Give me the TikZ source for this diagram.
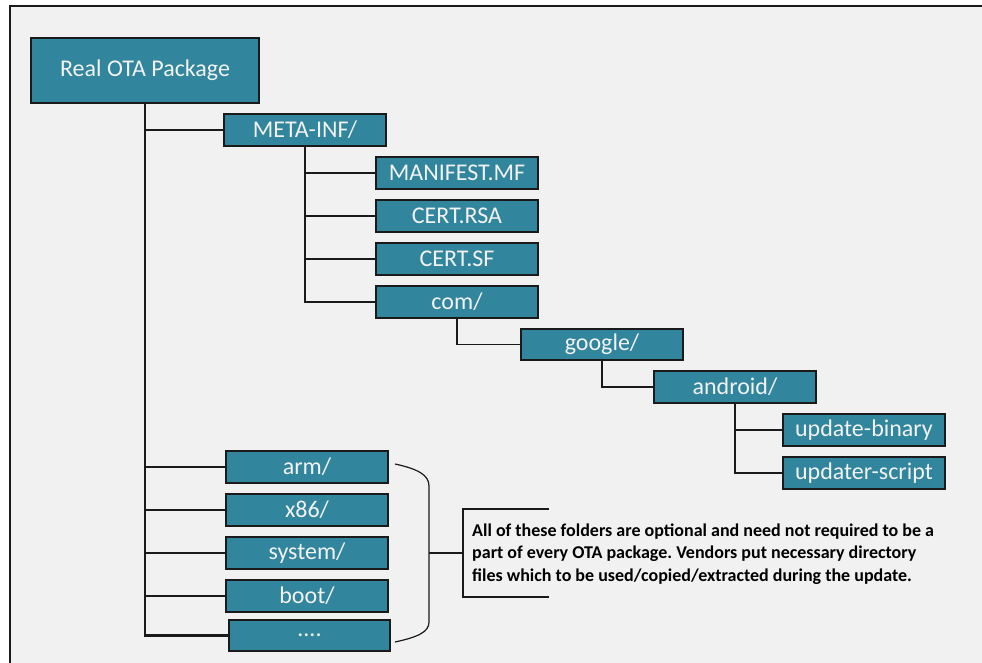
\documentclass[tikz,border=0pt]{standalone}
\usepackage{fontspec}
\setmainfont{Carlito}
\frenchspacing
\definecolor{boxfill}{HTML}{31859C}
\definecolor{bg}{HTML}{F1F1F1}
\definecolor{boxtext}{HTML}{F2F2F2}
\definecolor{linecol}{HTML}{1A1A1A}
\begin{document}
\begin{tikzpicture}[x=1pt,y=-1pt,
  fbox/.style={draw=linecol, line width=1.3pt, fill=boxfill, text=boxtext, inner sep=0pt,
    minimum width=162pt, minimum height=32pt, font=\fontsize{24}{26}\selectfont},
  conn/.style={draw=linecol, line width=1.4pt},
  trunk/.style={draw=linecol, line width=2.4pt}]
\useasboundingbox (0,0) rectangle (982,663);
\fill[white] (0,0) rectangle (982,663);
\fill[bg] (10,6) rectangle (982,663);
\draw[linecol, line width=2pt] (10,663) -- (10,6) -- (982,6);

\node[fbox, minimum width=228pt, minimum height=65pt] (root) at (145,70.5) {Real OTA Package};
\node[fbox] (meta) at (305,130) {META-INF/};
\node[fbox] (manifest) at (457,173) {MANIFEST.MF};
\node[fbox] (rsa) at (457,216) {CERT.RSA};
\node[fbox] (sf) at (457,259) {CERT.SF};
\node[fbox] (com) at (457,302) {com/};
\node[fbox, minimum height=31pt] (google) at (602,344.5) {google/};
\node[fbox] (android) at (735,387) {android/};
\node[fbox] (ubin) at (864,430) {update-binary};
\node[fbox] (uscr) at (864,473) {updater-script};
\node[fbox] (arm) at (307,467) {arm/};
\node[fbox] (x86) at (307,510) {x86/};
\node[fbox] (system) at (307,553) {system/};
\node[fbox] (boot) at (307,596) {boot/};
\node[fbox, minimum width=161pt, minimum height=31pt] (dots) at (309.5,635.5) {....};

\draw[trunk] (root) |- (dots);
\foreach \n in {meta,arm,x86,system,boot} \draw[conn] (root) |- (\n);
\foreach \n in {manifest,rsa,sf,com} \draw[conn] (meta) |- (\n);
\draw[conn] (com) |- (google);
\draw[conn] (google) |- (android);
\draw[conn] (android) |- (ubin);
\draw[conn] (android) |- (uscr);

\coordinate (bt) at (395,464);
\coordinate (bb) at (395,642);
\coordinate (bm) at (429,553);
\coordinate (bk) at (463,553);
\draw[conn, line width=1.2pt] (bt) .. controls (418,469) and (429,475) .. (429,486) -- (429,622) .. controls (429,632) and (418,637) .. (bb);
\draw[conn, line width=1.2pt] (bm) -- (bk);
\draw[conn, line width=1.2pt] (549,509) -- (463,509) -- (463,597) -- (549,597);

\node[anchor=west, align=left, inner sep=0pt, text=black,
  font=\bfseries\fontsize{18}{22.5}\selectfont] (note) at (472,554)
  {All of these folders are optional and need not required to be a\\
   part of every OTA package. Vendors put necessary directory\\
   files which to be used/copied/extracted during the update.};
\end{tikzpicture}
\end{document}
